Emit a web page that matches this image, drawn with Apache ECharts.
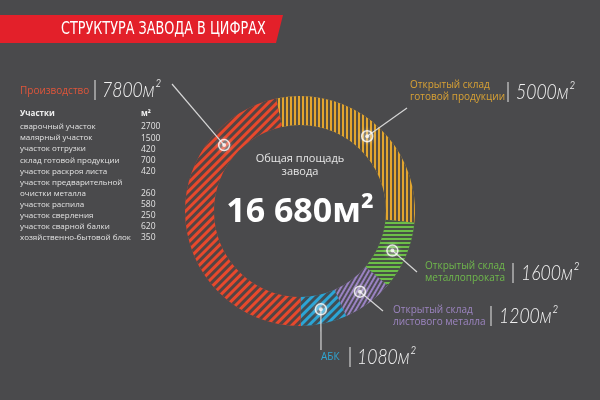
<!DOCTYPE html>
<html><head><meta charset="utf-8">
<script src="https://cdn.jsdelivr.net/npm/echarts@6/dist/echarts.min.js"></script>
<style>html,body{margin:0;padding:0;background:#4a4a4c}#c{width:600px;height:400px}</style>
</head><body><div id="c"></div>
<script>
// ---- data ----
const segNames = ['Открытый склад готовой продукции', 'Открытый склад металлопроката', 'Открытый склад листового металла', 'АБК', 'Производство'];
const segValues = [5000, 1600, 1200, 1080, 7800];
const segLabelLines = [['Открытый склад', 'готовой продукции'], ['Открытый склад', 'металлопроката'], ['Открытый склад', 'листового металла'], ['АБК'], ['Производство']];
const segAreaText = ['5000м²', '1600м²', '1200м²', '1080м²', '7800м²'];
const titleText = 'СТРУКТУРА ЗАВОДА В ЦИФРАХ';
const centerCaption = ['Общая площадь', 'завода'];
const totalText = '16 680м²';
const tableHeader = ['Участки', 'м²'];
const tableNames = ['сварочный участок', 'малярный участок', 'участок отгрузки', 'склад готовой продукции', 'участок раскроя листа', 'участок предварительной\nочистки металла', 'участок распила', 'участок сверления', 'участок сварной балки', 'хозяйственно-бытовой блок'];
const tableValues = [2700, 1500, 420, 700, 420, 260, 580, 250, 620, 350];

// ---- styling ----
const BG = '#4a4a4c';
const segColors = ['#e2a52f', '#6cbf48', '#9a82c2', '#2ba5d6', '#e8482c'];
const labelColors = ['#d9a234', '#6fb84c', '#9c84c0', '#2ea6d4', '#e0553a'];
const stripe = 'rgba(68,68,70,0.9)';
const segDecals = [
  {symbol: 'rect', symbolSize: 1, dashArrayX: [2, 2], dashArrayY: [1, 0], color: stripe},
  {symbol: 'rect', symbolSize: 1, dashArrayX: [1, 0], dashArrayY: [2, 2], color: stripe},
  {symbol: 'rect', symbolSize: 1, dashArrayX: [1, 0], dashArrayY: [2, 2], rotation: -Math.PI / 3, color: stripe},
  {symbol: 'rect', symbolSize: 1, dashArrayX: [1, 0], dashArrayY: [3, 3], rotation: -Math.PI / 4, color: stripe},
  {symbol: 'rect', symbolSize: 1, dashArrayX: [1, 0], dashArrayY: [3, 3], rotation: -Math.PI / 4, color: stripe}
];
const CX = 300, CY = 211, R0 = 86, R1 = 115, START = 102;
const markerFrac = [0.5, 0.5, 0.5, 0.5, 0.78];
const anchors = [[407, 108], [417, 272], [383, 311], [321, 350], [172, 84]];
const labelPos = [
  {x: 410, y: 85, bar: 508, num: 516, ny: 92},
  {x: 425, y: 266, bar: 513, num: 521, ny: 273},
  {x: 393, y: 310, bar: 491, num: 499, ny: 316},
  {x: 321, y: 357, bar: 350, num: 357, ny: 357},
  {x: 20, y: 91, bar: 95, num: 102, ny: 90}
];

const total = segValues.reduce((a, b) => a + b, 0);
const markerData = [];
let acc = 0;
segValues.forEach((v, i) => { markerData.push([(R0 + R1) / 2, acc + v * markerFrac[i]]); acc += v; });

const chart = echarts.init(document.getElementById('c'), null, {renderer: 'canvas'});
const FONT = '"Open Sans", "Noto Sans", sans-serif';

const graphics = [];
// title
graphics.push({type: 'polygon', shape: {points: [[0, 15], [283, 15], [276, 43], [0, 43]]}, style: {fill: '#e3202a'}, z: 10});
graphics.push({type: 'text', x: 61, y: 29, scaleX: 0.79, style: {text: titleText, fill: '#fff', font: '18px "Liberation Sans Narrow", "DejaVu Sans Condensed", ' + FONT, textVerticalAlign: 'middle'}, z: 11});
// center
graphics.push({type: 'text', x: CX, y: 159, style: {text: centerCaption[0], fill: '#e6e6e6', font: '11px ' + FONT, textAlign: 'center', textVerticalAlign: 'middle'}, z: 11});
graphics.push({type: 'text', x: CX, y: 172, style: {text: centerCaption[1], fill: '#e6e6e6', font: '11px ' + FONT, textAlign: 'center', textVerticalAlign: 'middle'}, z: 11});
graphics.push({type: 'text', x: CX, y: 212, style: {text: totalText, fill: '#fff', font: 'bold 34px ' + FONT, textAlign: 'center', textVerticalAlign: 'middle'}, z: 11});
// segment labels
segLabelLines.forEach((lines, i) => {
  const p = labelPos[i];
  const n = lines.length;
  lines.forEach((t, j) => {
    const y = n === 1 ? p.y : p.y + j * 12;
    graphics.push({type: 'text', x: p.x, y: y, style: {text: t, fill: labelColors[i], font: '10px ' + FONT, textVerticalAlign: 'middle'}, z: 11});
  });
  graphics.push({type: 'line', shape: {x1: p.bar, y1: p.ny - 10, x2: p.bar, y2: p.ny + 10}, style: {stroke: '#cfcfcf', lineWidth: 1.2}, z: 11});
  graphics.push({type: 'text', x: p.num, y: p.ny, scaleX: 0.8, style: {text: segAreaText[i], fill: '#f2f2f2', font: 'italic 300 22px Lato, ' + FONT, textVerticalAlign: 'middle'}, z: 11});
});
// table
graphics.push({type: 'text', x: 20, y: 114, style: {text: tableHeader[0], fill: '#f0f0f0', font: 'bold 8px ' + FONT, textVerticalAlign: 'middle'}, z: 11});
graphics.push({type: 'text', x: 141, y: 114, style: {text: tableHeader[1], fill: '#f0f0f0', font: 'bold 8px ' + FONT, textVerticalAlign: 'middle'}, z: 11});
let row = 0;
tableNames.forEach((name, i) => {
  const parts = name.split('\n');
  parts.forEach((t) => {
    graphics.push({type: 'text', x: 20, y: 127 + row * 11.1, style: {text: t, fill: '#e2e2e2', font: '8px ' + FONT, textVerticalAlign: 'middle'}, z: 11});
    row++;
  });
  graphics.push({type: 'text', x: 141, y: 127 + (row - 1) * 11.1, style: {text: String(tableValues[i]), fill: '#e2e2e2', font: '8.5px ' + FONT, textVerticalAlign: 'middle'}, z: 11});
});

chart.setOption({
  backgroundColor: BG,
  animation: false,
  polar: {center: [CX, CY], radius: R1},
  angleAxis: {type: 'value', min: 0, max: total, startAngle: START, clockwise: true, show: false},
  radiusAxis: {type: 'value', min: 0, max: R1, show: false},
  series: [
    {
      type: 'pie', center: [CX, CY], radius: [R0, R1], startAngle: START, clockwise: true,
      label: {show: false}, labelLine: {show: false}, silent: true,
      data: segValues.map((v, i) => ({name: segNames[i], value: v, itemStyle: {color: segColors[i], decal: segDecals[i]}}))
    },
    {
      type: 'scatter', coordinateSystem: 'polar', symbol: 'circle', symbolSize: 11, z: 5,
      itemStyle: {color: 'rgba(255,255,255,0.2)', borderColor: '#ffffff', borderWidth: 1.5, shadowBlur: 4, shadowColor: 'rgba(255,255,255,0.6)'},
      data: markerData
    },
    {
      type: 'scatter', coordinateSystem: 'polar', symbol: 'circle', symbolSize: 4, z: 6,
      itemStyle: {color: '#ffffff'},
      data: markerData
    }
  ],
  graphic: graphics
});

const lines = markerData.map((d, i) => {
  const p = chart.convertToPixel({seriesIndex: 1}, d);
  return {type: 'line', shape: {x1: p[0], y1: p[1], x2: anchors[i][0], y2: anchors[i][1]}, style: {stroke: '#d6d6d6', lineWidth: 1.2}, z: 4};
});
chart.setOption({graphic: graphics.concat(lines)});
</script></body></html>
